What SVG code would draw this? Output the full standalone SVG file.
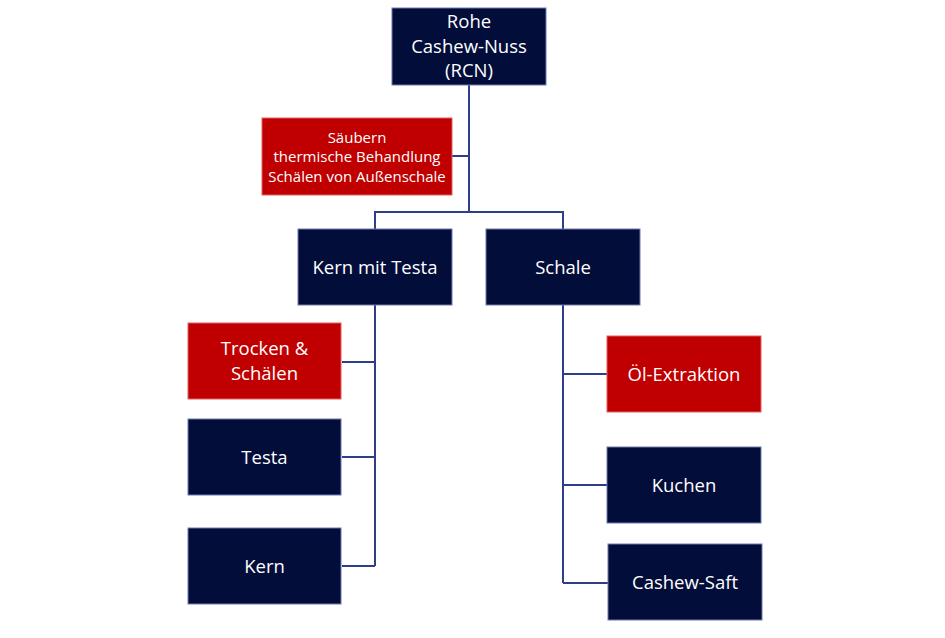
<svg xmlns="http://www.w3.org/2000/svg" width="945" height="638" viewBox="0 0 945 638">
<style>
.n{fill:#020D3A;stroke:#6C7BB0;stroke-width:1}
.r{fill:#C00000;stroke:#E06060;stroke-width:1}
.t{font-family:"Open Sans","Noto Sans",sans-serif;font-size:18.5px;fill:#FFFFFF;text-anchor:middle}
.s{font-family:"Open Sans","Noto Sans",sans-serif;font-size:15px;fill:#FFFFFF;text-anchor:middle}
.c{fill:none;stroke:#2F3E8A;stroke-width:2}
</style>
<rect width="945" height="638" fill="#FFFFFF"/>
<g id="connectors">
<path class="c" d="M469,85 V212 M452,156 H469 M375,229 V212 H563 V229"/>
<path class="c" d="M375,305 V566 M342,362 H375 M342,457 H375 M342,566 H375"/>
<path class="c" d="M563,305 V583 M563,374 H607 M563,485 H607 M563,583 H608"/>
</g>
<g id="rcn"><rect class="n" x="392" y="8" width="154" height="77"/>
<text class="t" x="469" y="28">Rohe</text><text class="t" x="469" y="52.5">Cashew-Nuss</text><text class="t" x="469" y="77">(RCN)</text></g>
<g id="process1"><rect class="r" x="262" y="118" width="190" height="77"/>
<text class="s" x="357" y="142.5">Säubern</text><text class="s" x="357" y="162">thermische Behandlung</text><text class="s" x="357" y="181.5">Schälen von Außenschale</text></g>
<g id="kernmittesta"><rect class="n" x="298" y="229" width="154" height="76"/>
<text class="t" x="375" y="273.5">Kern mit Testa</text></g>
<g id="schale"><rect class="n" x="486" y="229" width="154" height="76"/>
<text class="t" x="563" y="273.5">Schale</text></g>
<g id="trocken"><rect class="r" x="188" y="323" width="153" height="76"/>
<text class="t" x="264.5" y="355">Trocken &amp;</text><text class="t" x="264.5" y="380">Schälen</text></g>
<g id="testa"><rect class="n" x="188" y="419" width="153" height="76"/>
<text class="t" x="264.5" y="463.5">Testa</text></g>
<g id="kern"><rect class="n" x="188" y="528" width="153" height="76"/>
<text class="t" x="264.5" y="572.5">Kern</text></g>
<g id="oel"><rect class="r" x="607" y="336" width="154" height="76"/>
<text class="t" x="684" y="380.5">Öl-Extraktion</text></g>
<g id="kuchen"><rect class="n" x="607" y="447" width="154" height="76"/>
<text class="t" x="684" y="491.5">Kuchen</text></g>
<g id="saft"><rect class="n" x="608" y="544" width="154" height="76"/>
<text class="t" x="685" y="588.5">Cashew-Saft</text></g>
</svg>
